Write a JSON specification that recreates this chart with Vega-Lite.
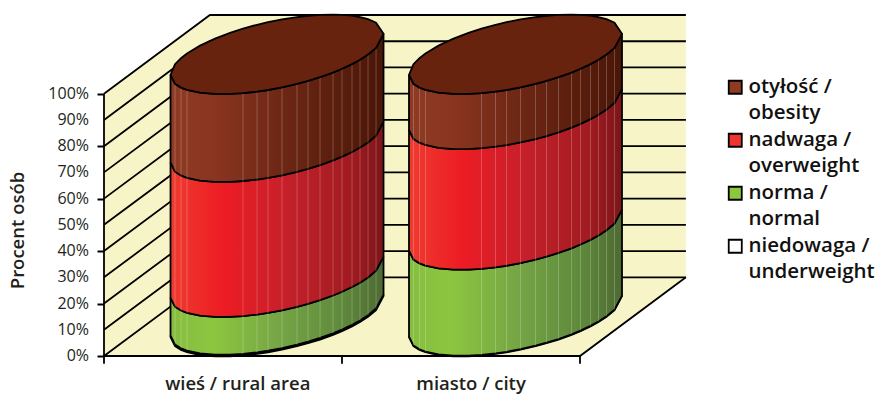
{
  "$schema": "https://vega.github.io/schema/vega-lite/v6.json",
  "width": 582,
  "height": 341,
  "autosize": "none",
  "padding": {"left": 104, "top": 15, "right": 194, "bottom": 38},
  "background": "white",
  "config": {
    "view": {"stroke": null},
    "font": "Open Sans",
    "style": {"guide-label": {"lineHeight": 26}},
    "axisX": {
      "grid": false, "domain": false, "ticks": false,
      "labelFont": "Open Sans", "labelFontWeight": 600, "labelFontSize": 18.5, "labelColor": "#231f20", "labelPadding": 18, "labelLineHeight": 18, "labelOverlap": false, "labelFlush": false
    },
    "axisY": {
      "grid": false, "domain": false, "labels": false, "tickColor": "black", "tickWidth": 2, "tickSize": 7,
      "titleFont": "Open Sans", "titleFontWeight": 600, "titleFontSize": 18.5, "titleColor": "#231f20", "titleX": -77, "titleY": 215
    }
  },
  "datasets": {
    "walls": [
      {"x": 0, "lo": 0, "hi": 100},
      {"x": 0.445, "lo": 0, "hi": 130},
      {"x": 2, "lo": 0, "hi": 130},
      {"x": 2.445, "lo": 30, "hi": 130}
    ],
    "percentLabels": [
      {"x": 0, "y": 0, "label": "0%"},
      {"x": 0, "y": 10, "label": "10%"},
      {"x": 0, "y": 20, "label": "20%"},
      {"x": 0, "y": 30, "label": "30%"},
      {"x": 0, "y": 40, "label": "40%"},
      {"x": 0, "y": 50, "label": "50%"},
      {"x": 0, "y": 60, "label": "60%"},
      {"x": 0, "y": 70, "label": "70%"},
      {"x": 0, "y": 80, "label": "80%"},
      {"x": 0, "y": 90, "label": "90%"},
      {"x": 0, "y": 100, "label": "100%"}
    ],
    "frame": [
      {"line": "0", "x": 0, "y": 0}, {"line": "0", "x": 0.445, "y": 30}, {"line": "0", "x": 2.445, "y": 30},
      {"line": "10", "x": 0, "y": 10}, {"line": "10", "x": 0.445, "y": 40}, {"line": "10", "x": 2.445, "y": 40},
      {"line": "20", "x": 0, "y": 20}, {"line": "20", "x": 0.445, "y": 50}, {"line": "20", "x": 2.445, "y": 50},
      {"line": "30", "x": 0, "y": 30}, {"line": "30", "x": 0.445, "y": 60}, {"line": "30", "x": 2.445, "y": 60},
      {"line": "40", "x": 0, "y": 40}, {"line": "40", "x": 0.445, "y": 70}, {"line": "40", "x": 2.445, "y": 70},
      {"line": "50", "x": 0, "y": 50}, {"line": "50", "x": 0.445, "y": 80}, {"line": "50", "x": 2.445, "y": 80},
      {"line": "60", "x": 0, "y": 60}, {"line": "60", "x": 0.445, "y": 90}, {"line": "60", "x": 2.445, "y": 90},
      {"line": "70", "x": 0, "y": 70}, {"line": "70", "x": 0.445, "y": 100}, {"line": "70", "x": 2.445, "y": 100},
      {"line": "80", "x": 0, "y": 80}, {"line": "80", "x": 0.445, "y": 110}, {"line": "80", "x": 2.445, "y": 110},
      {"line": "90", "x": 0, "y": 90}, {"line": "90", "x": 0.445, "y": 120}, {"line": "90", "x": 2.445, "y": 120},
      {"line": "100", "x": 0, "y": 100}, {"line": "100", "x": 0.445, "y": 130}, {"line": "100", "x": 2.445, "y": 130},
      {"line": "axis", "x": 0, "y": -3}, {"line": "axis", "x": 0, "y": 100},
      {"line": "floor", "x": 0, "y": 0}, {"line": "floor", "x": 2, "y": 0}, {"line": "floor", "x": 2.445, "y": 30},
      {"line": "tick1", "x": 1, "y": -3}, {"line": "tick1", "x": 1, "y": 0},
      {"line": "tick2", "x": 2, "y": -3}, {"line": "tick2", "x": 2, "y": 0}
    ],
    "cylinders": [
      {"area": "wieś", "facet": 1, "x": 0.2795, "f0": 7.18, "f1": 7.78, "f2": 22.18, "f3": 73.68, "f4": 107.18, "back": 107.18},
      {"area": "wieś", "facet": 2, "x": 0.2984, "f0": 3.78, "f1": 4.38, "f2": 18.78, "f3": 70.28, "f4": 103.78, "back": 111.24},
      {"area": "wieś", "facet": 3, "x": 0.3236, "f0": 2.33, "f1": 2.93, "f2": 17.33, "f3": 68.83, "f4": 102.33, "back": 113.58},
      {"area": "wieś", "facet": 4, "x": 0.3488, "f0": 1.45, "f1": 2.05, "f2": 16.45, "f3": 67.95, "f4": 101.45, "back": 115.33},
      {"area": "wieś", "facet": 5, "x": 0.4035, "f0": 0.38, "f1": 0.98, "f2": 15.38, "f3": 66.88, "f4": 100.38, "back": 118.32},
      {"area": "wieś", "facet": 6, "x": 0.4665, "f0": -0.1, "f1": 0.5, "f2": 14.9, "f3": 66.4, "f4": 99.9, "back": 121.0},
      {"area": "wieś", "facet": 7, "x": 0.5295, "f0": -0.1, "f1": 0.5, "f2": 14.9, "f3": 66.4, "f4": 99.9, "back": 123.2},
      {"area": "wieś", "facet": 8, "x": 0.5841, "f0": 0.21, "f1": 0.81, "f2": 15.21, "f3": 66.71, "f4": 100.21, "back": 124.81},
      {"area": "wieś", "facet": 9, "x": 0.643, "f0": 0.78, "f1": 1.38, "f2": 15.78, "f3": 67.28, "f4": 100.78, "back": 126.28},
      {"area": "wieś", "facet": 10, "x": 0.6892, "f0": 1.41, "f1": 2.01, "f2": 16.41, "f3": 67.91, "f4": 101.41, "back": 127.27},
      {"area": "wieś", "facet": 11, "x": 0.748, "f0": 2.4, "f1": 3.0, "f2": 17.4, "f3": 68.9, "f4": 102.4, "back": 128.34},
      {"area": "wieś", "facet": 12, "x": 0.811, "f0": 3.72, "f1": 4.32, "f2": 18.72, "f3": 70.22, "f4": 103.72, "back": 129.22},
      {"area": "wieś", "facet": 13, "x": 0.8573, "f0": 4.86, "f1": 5.46, "f2": 19.86, "f3": 71.36, "f4": 104.86, "back": 129.7},
      {"area": "wieś", "facet": 14, "x": 0.9077, "f0": 6.28, "f1": 6.88, "f2": 21.28, "f3": 72.78, "f4": 106.28, "back": 130.04},
      {"area": "wieś", "facet": 15, "x": 0.9623, "f0": 8.06, "f1": 8.66, "f2": 23.06, "f3": 74.56, "f4": 108.06, "back": 130.16},
      {"area": "wieś", "facet": 16, "x": 1.0001, "f0": 9.49, "f1": 10.09, "f2": 24.49, "f3": 75.99, "f4": 109.49, "back": 130.05},
      {"area": "wieś", "facet": 17, "x": 1.0421, "f0": 11.29, "f1": 11.89, "f2": 26.29, "f3": 77.79, "f4": 111.29, "back": 129.73},
      {"area": "wieś", "facet": 18, "x": 1.0757, "f0": 12.95, "f1": 13.55, "f2": 27.95, "f3": 79.45, "f4": 112.95, "back": 129.23},
      {"area": "wieś", "facet": 19, "x": 1.1094, "f0": 14.93, "f1": 15.53, "f2": 29.93, "f3": 81.43, "f4": 114.93, "back": 128.43},
      {"area": "wieś", "facet": 20, "x": 1.143, "f0": 17.49, "f1": 18.09, "f2": 32.49, "f3": 83.99, "f4": 117.49, "back": 127.05},
      {"area": "wieś", "facet": 21, "x": 1.1745, "f0": 22.82, "f1": 23.42, "f2": 37.82, "f3": 89.32, "f4": 122.82, "back": 122.82},
      {"area": "miasto", "facet": 1, "x": 1.2815, "f0": 7.18, "f1": 7.38, "f2": 40.18, "f3": 86.18, "f4": 107.18, "back": 107.18},
      {"area": "miasto", "facet": 2, "x": 1.3004, "f0": 3.78, "f1": 3.98, "f2": 36.78, "f3": 82.78, "f4": 103.78, "back": 111.24},
      {"area": "miasto", "facet": 3, "x": 1.3256, "f0": 2.33, "f1": 2.53, "f2": 35.33, "f3": 81.33, "f4": 102.33, "back": 113.58},
      {"area": "miasto", "facet": 4, "x": 1.3508, "f0": 1.45, "f1": 1.65, "f2": 34.45, "f3": 80.45, "f4": 101.45, "back": 115.33},
      {"area": "miasto", "facet": 5, "x": 1.4055, "f0": 0.38, "f1": 0.58, "f2": 33.38, "f3": 79.38, "f4": 100.38, "back": 118.32},
      {"area": "miasto", "facet": 6, "x": 1.4685, "f0": -0.1, "f1": 0.1, "f2": 32.9, "f3": 78.9, "f4": 99.9, "back": 121.0},
      {"area": "miasto", "facet": 7, "x": 1.5315, "f0": -0.1, "f1": 0.1, "f2": 32.9, "f3": 78.9, "f4": 99.9, "back": 123.2},
      {"area": "miasto", "facet": 8, "x": 1.5861, "f0": 0.21, "f1": 0.41, "f2": 33.21, "f3": 79.21, "f4": 100.21, "back": 124.81},
      {"area": "miasto", "facet": 9, "x": 1.645, "f0": 0.78, "f1": 0.98, "f2": 33.78, "f3": 79.78, "f4": 100.78, "back": 126.28},
      {"area": "miasto", "facet": 10, "x": 1.6912, "f0": 1.41, "f1": 1.61, "f2": 34.41, "f3": 80.41, "f4": 101.41, "back": 127.27},
      {"area": "miasto", "facet": 11, "x": 1.75, "f0": 2.4, "f1": 2.6, "f2": 35.4, "f3": 81.4, "f4": 102.4, "back": 128.34},
      {"area": "miasto", "facet": 12, "x": 1.813, "f0": 3.72, "f1": 3.92, "f2": 36.72, "f3": 82.72, "f4": 103.72, "back": 129.22},
      {"area": "miasto", "facet": 13, "x": 1.8593, "f0": 4.86, "f1": 5.06, "f2": 37.86, "f3": 83.86, "f4": 104.86, "back": 129.7},
      {"area": "miasto", "facet": 14, "x": 1.9097, "f0": 6.28, "f1": 6.48, "f2": 39.28, "f3": 85.28, "f4": 106.28, "back": 130.04},
      {"area": "miasto", "facet": 15, "x": 1.9643, "f0": 8.06, "f1": 8.26, "f2": 41.06, "f3": 87.06, "f4": 108.06, "back": 130.16},
      {"area": "miasto", "facet": 16, "x": 2.0021, "f0": 9.49, "f1": 9.69, "f2": 42.49, "f3": 88.49, "f4": 109.49, "back": 130.05},
      {"area": "miasto", "facet": 17, "x": 2.0441, "f0": 11.29, "f1": 11.49, "f2": 44.29, "f3": 90.29, "f4": 111.29, "back": 129.73},
      {"area": "miasto", "facet": 18, "x": 2.0777, "f0": 12.95, "f1": 13.15, "f2": 45.95, "f3": 91.95, "f4": 112.95, "back": 129.23},
      {"area": "miasto", "facet": 19, "x": 2.1114, "f0": 14.93, "f1": 15.13, "f2": 47.93, "f3": 93.93, "f4": 114.93, "back": 128.43},
      {"area": "miasto", "facet": 20, "x": 2.145, "f0": 17.49, "f1": 17.69, "f2": 50.49, "f3": 96.49, "f4": 117.49, "back": 127.05},
      {"area": "miasto", "facet": 21, "x": 2.1765, "f0": 22.82, "f1": 23.02, "f2": 55.82, "f3": 101.82, "f4": 122.82, "back": 122.82}
    ],
    "categories": [
      {"category": "otyłość / obesity"},
      {"category": "nadwaga / overweight"},
      {"category": "norma / normal"},
      {"category": "niedowaga / underweight"}
    ]
  },
  "layer": [
    {
      "data": {"name": "walls"},
      "mark": {"type": "area", "fill": "#f7f5c8", "orient": "vertical"},
      "encoding": {
        "x": {
          "field": "x", "type": "quantitative", "scale": {"domain": [0, 2.4454], "nice": false, "zero": false},
          "axis": {
            "values": [0.56, 1.54], "title": null,
            "labelExpr": "datum.value == 0.56 ? 'wieś / rural area' : 'miasto / city'"
          }
        },
        "y": {
          "field": "lo", "type": "quantitative", "scale": {"domain": [0, 130], "nice": false, "zero": false},
          "axis": {
            "values": [0, 10, 20, 30, 40, 50, 60, 70, 80, 90, 100],
            "title": "Procent osób"
          }
        },
        "y2": {"field": "hi"}
      }
    },
    {
      "data": {"name": "percentLabels"},
      "mark": {"type": "text", "align": "right", "baseline": "middle", "dx": -15, "font": "Open Sans", "fontSize": 16, "color": "#231f20"},
      "encoding": {
        "x": {"field": "x", "type": "quantitative"},
        "y": {"field": "y", "type": "quantitative"},
        "text": {"field": "label"}
      }
    },
    {
      "data": {"name": "frame"},
      "mark": {"type": "line", "color": "black", "strokeWidth": 1.8},
      "encoding": {
        "x": {"field": "x", "type": "quantitative"},
        "y": {"field": "y", "type": "quantitative"},
        "detail": {"field": "line"}
      }
    },
    {
      "data": {"name": "cylinders"},
      "mark": {"type": "area", "orient": "vertical", "fill": "white", "stroke": "black", "strokeWidth": 1.8},
      "encoding": {
        "x": {"field": "x", "type": "quantitative"},
        "y": {"field": "f0", "type": "quantitative"},
        "y2": {"field": "f1"},
        "detail": {"field": "area"}
      }
    },
    {
      "data": {"name": "cylinders"},
      "mark": {
        "type": "area", "orient": "vertical", "stroke": "black", "strokeWidth": 1.8,
        "fill": {"gradient": "linear", "x1": 0, "y1": 0, "x2": 1, "y2": 0, "stops": [
          {"offset": 0, "color": "#86bd40"}, {"offset": 0.2, "color": "#8cc63f"}, {"offset": 0.5, "color": "#76a645"}, {"offset": 0.8, "color": "#5f8a3c"}, {"offset": 1, "color": "#4e6a32"}
        ]}
      },
      "encoding": {
        "x": {"field": "x", "type": "quantitative"},
        "y": {"field": "f1", "type": "quantitative"},
        "y2": {"field": "f2"},
        "detail": {"field": "area"}
      }
    },
    {
      "data": {"name": "cylinders"},
      "mark": {
        "type": "area", "orient": "vertical", "stroke": "black", "strokeWidth": 1.8,
        "fill": {"gradient": "linear", "x1": 0, "y1": 0, "x2": 1, "y2": 0, "stops": [
          {"offset": 0, "color": "#ef3b2f"}, {"offset": 0.25, "color": "#ed1c24"}, {"offset": 0.55, "color": "#c5202a"}, {"offset": 0.85, "color": "#a01b20"}, {"offset": 1, "color": "#7c1518"}
        ]}
      },
      "encoding": {
        "x": {"field": "x", "type": "quantitative"},
        "y": {"field": "f2", "type": "quantitative"},
        "y2": {"field": "f3"},
        "detail": {"field": "area"}
      }
    },
    {
      "data": {"name": "cylinders"},
      "mark": {
        "type": "area", "orient": "vertical", "stroke": "black", "strokeWidth": 1.8,
        "fill": {"gradient": "linear", "x1": 0, "y1": 0, "x2": 1, "y2": 0, "stops": [
          {"offset": 0, "color": "#8f3a22"}, {"offset": 0.2, "color": "#8a3520"}, {"offset": 0.5, "color": "#6f2815"}, {"offset": 0.8, "color": "#591d0c"}, {"offset": 1, "color": "#4a1607"}
        ]}
      },
      "encoding": {
        "x": {"field": "x", "type": "quantitative"},
        "y": {"field": "f3", "type": "quantitative"},
        "y2": {"field": "f4"},
        "detail": {"field": "area"}
      }
    },
    {
      "data": {"name": "cylinders"},
      "transform": [{"filter": "(datum.facet >= 2 && datum.facet <= 4) || (datum.facet >= 8 && datum.facet <= 20)"}],
      "mark": {"type": "rule", "color": "white", "opacity": 0.28, "strokeWidth": 0.8},
      "encoding": {
        "x": {"field": "x", "type": "quantitative"},
        "y": {"field": "f1", "type": "quantitative"},
        "y2": {"field": "f4"}
      }
    },
    {
      "data": {"name": "cylinders"},
      "mark": {"type": "area", "orient": "vertical", "fill": "#68230f", "stroke": "black", "strokeWidth": 1.8},
      "encoding": {
        "x": {"field": "x", "type": "quantitative"},
        "y": {"field": "f4", "type": "quantitative"},
        "y2": {"field": "back"},
        "detail": {"field": "area"}
      }
    },
    {
      "data": {"name": "categories"},
      "mark": {"type": "square", "size": 0, "opacity": 1},
      "encoding": {
        "color": {
          "field": "category", "type": "nominal",
          "scale": {
            "domain": ["otyłość / obesity", "nadwaga / overweight", "norma / normal", "niedowaga / underweight"],
            "range": ["#8f3a22", "#ef3530", "#8dc63f", "#ffffff"]
          },
          "legend": {
            "orient": "none", "legendX": 621, "legendY": 62, "title": null,
            "symbolType": "square", "symbolSize": 170, "symbolOpacity": 1, "symbolStrokeColor": "black", "symbolStrokeWidth": 1.8,
            "labelFont": "Open Sans", "labelFontWeight": 600, "labelFontSize": 20.5, "labelColor": "#111111", "labelLimit": 200, "labelOffset": 3,
            "rowPadding": 6,
            "labelExpr": "[split(datum.label, ' / ')[0] + ' /', split(datum.label, ' / ')[1]]"
          }
        }
      }
    }
  ]
}
